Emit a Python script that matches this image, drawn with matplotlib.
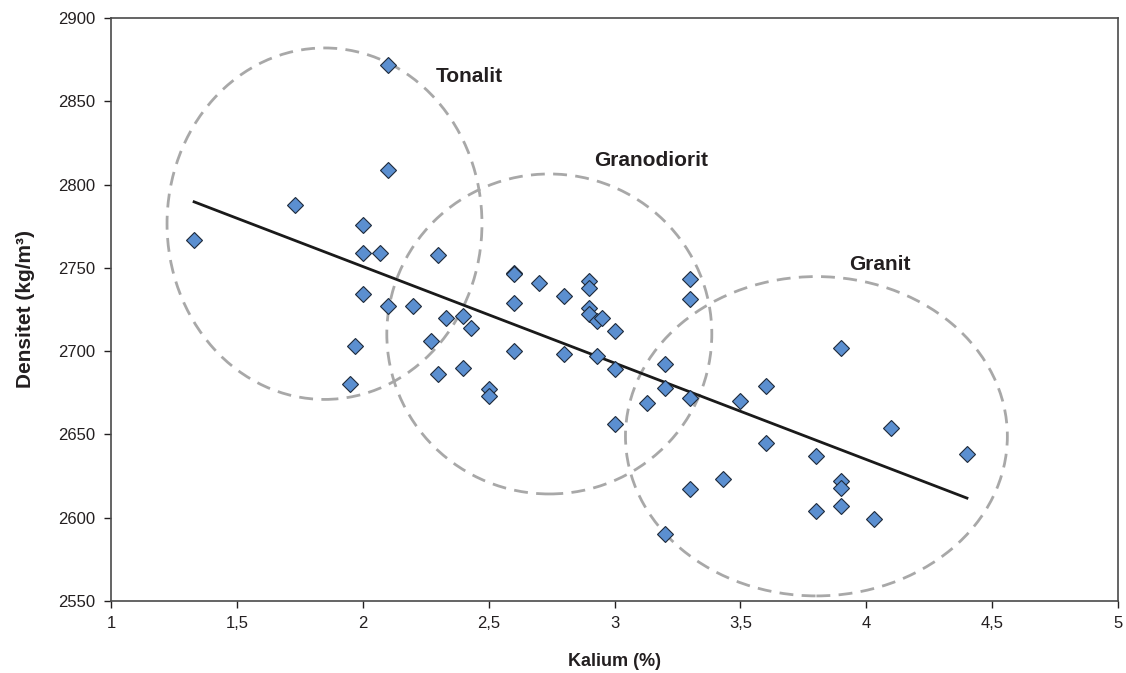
import numpy as np
import matplotlib
matplotlib.use("Agg")
import matplotlib.pyplot as plt
from matplotlib.patches import Ellipse
from matplotlib.ticker import FixedLocator

# Data: Kalium (%) and density (kg/m3)
kalium = [1.33, 1.73, 1.95, 1.97, 2.00, 2.00, 2.00, 2.07, 2.10, 2.10,
          2.10, 2.20, 2.27, 2.30, 2.30, 2.33, 2.40, 2.40, 2.43, 2.50,
          2.50, 2.60, 2.60, 2.60, 2.60, 2.70, 2.80, 2.80, 2.90, 2.90,
          2.90, 2.90, 2.93, 2.95, 2.93, 3.00, 3.00, 3.00, 3.13, 3.20,
          3.20, 3.20, 3.30, 3.30, 3.30, 3.30, 3.43, 3.50, 3.60, 3.60,
          3.80, 3.80, 3.90, 3.90, 3.90, 3.90, 4.03, 4.10, 4.40]
densitet = [2767, 2788, 2680, 2703, 2776, 2759, 2734, 2759, 2872, 2809,
            2727, 2727, 2706, 2758, 2686, 2720, 2721, 2690, 2714, 2677,
            2673, 2747, 2746, 2729, 2700, 2741, 2733, 2698, 2742, 2738,
            2726, 2722, 2718, 2720, 2697, 2712, 2689, 2656, 2669, 2692,
            2678, 2590, 2743, 2731, 2672, 2617, 2623, 2670, 2679, 2645,
            2637, 2604, 2702, 2622, 2618, 2607, 2599, 2654, 2638]

# Group ellipses (center x, center y, width, height) and labels
group_names = ["Tonalit", "Granodiorit", "Granit"]
group_cx = [1.848, 2.741, 3.802]
group_cy = [2776.5, 2710.3, 2648.9]
group_w = [1.251, 1.291, 1.517]
group_h = [211.0, 192.1, 191.7]
label_x = [2.424, 3.145, 4.055]
label_y = [2865.0, 2814.7, 2752.3]

x_ticks = [1, 1.5, 2, 2.5, 3, 3.5, 4, 4.5, 5]
x_ticklabels = ["1", "1,5", "2", "2,5", "3", "3,5", "4", "4,5", "5"]
y_ticks = [2550, 2600, 2650, 2700, 2750, 2800, 2850, 2900]

plt.rcParams['font.family'] = ['Liberation Sans', 'DejaVu Sans']

fig = plt.figure(figsize=(11.26, 6.73), dpi=100)
ax = fig.add_axes([0.0986, 0.1070, 0.8943, 0.8663])

# ellipses
for cx, cy, w, h in zip(group_cx, group_cy, group_w, group_h):
    e = Ellipse((cx, cy), w, h, fill=False, edgecolor="#a8a8a8",
                linestyle=(0, (5, 3)), linewidth=2.0, zorder=1)
    ax.add_patch(e)

# regression line
coef = np.polyfit(kalium, densitet, 1)
xl = np.array([min(kalium), max(kalium)])
ax.plot(xl, np.polyval(coef, xl), color="#1a1a1a", linewidth=2.0, zorder=2)

# points
ax.plot(kalium, densitet, linestyle="none", marker="D", markersize=8.5,
        markerfacecolor="#5b8fd0", markeredgecolor="#1e2a3a",
        markeredgewidth=0.8, zorder=3)

for name, lx, ly in zip(group_names, label_x, label_y):
    ax.text(lx, ly, name, ha="center", va="center", fontsize=15,
            fontweight="bold", color="#231f20")

ax.set_xlim(1, 5)
ax.set_ylim(2550, 2900)
ax.xaxis.set_major_locator(FixedLocator(x_ticks))
ax.set_xticklabels(x_ticklabels)
ax.yaxis.set_major_locator(FixedLocator(y_ticks))
ax.tick_params(direction="out", length=5, width=1.0, labelsize=12,
               colors="#231f20", pad=6)
for s in ax.spines.values():
    s.set_linewidth(1.2)
    s.set_color("#4a4a4a")

ax.set_xlabel("Kalium (%)", fontsize=13, fontweight="bold", labelpad=16,
              color="#231f20")
ax.set_ylabel("Densitet (kg/m³)", fontsize=15, fontweight="bold", labelpad=17,
              color="#231f20")

fig.savefig("out.png", dpi=100)
